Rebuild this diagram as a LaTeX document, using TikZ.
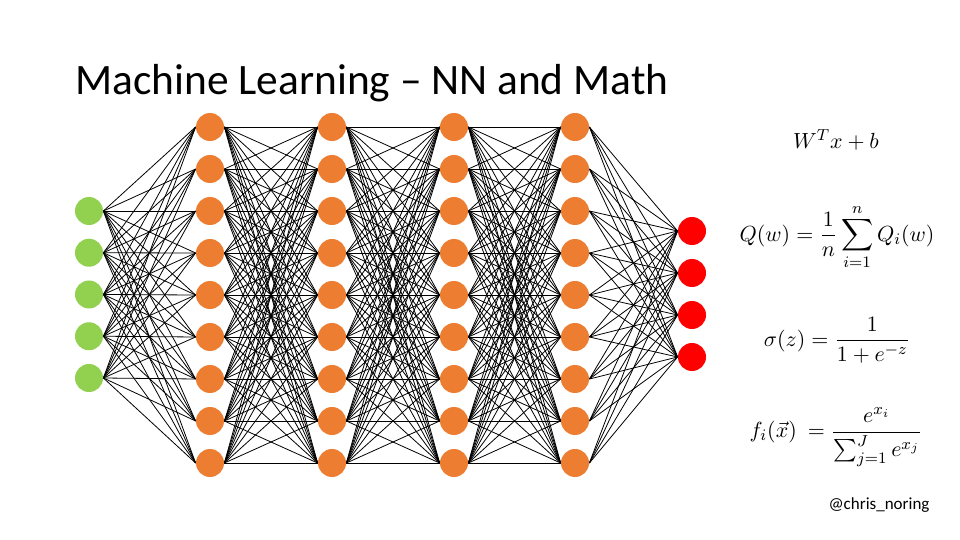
\documentclass[tikz,border=0pt]{standalone}
\usepackage{amsmath,amssymb}
\usepackage{fontspec}
\setmainfont{Carlito}
\usepackage{tikz}
\usetikzlibrary{positioning}

\definecolor{ingreen}{HTML}{92D050}
\definecolor{hidorange}{HTML}{ED7D31}
\definecolor{outred}{HTML}{FF0000}

\begin{document}
\begin{tikzpicture}[x=0.5pt, y=-0.5pt,
  neuron/.style={circle, minimum size=14pt, inner sep=0pt},
  synapse/.style={black, line width=0.4pt},
  formula/.style={font=\fontsize{11.2}{13}\selectfont, inner sep=1pt}]
\useasboundingbox (0,0) rectangle (960,540);

% Neurons
\foreach \i in {1,...,5}
  \node[neuron, fill=ingreen] (in-\i) at (89,{211+41.75*(\i-1)}) {};
\foreach \l/\x in {1/210,2/332,3/454,4/575}
  \foreach \i in {1,...,9}
    \node[neuron, fill=hidorange] (h\l-\i) at (\x,{127+42*(\i-1)}) {};
\foreach \i in {1,...,4}
  \node[neuron, fill=outred] (out-\i) at (692,{231+42*(\i-1)}) {};

% Connections
\foreach \i in {1,...,5}
  \foreach \j in {1,...,9}
    \draw[synapse] (in-\i.east) -- (h1-\j.west);
\foreach \l/\m in {1/2,2/3,3/4}
  \foreach \i in {1,...,9}
    \foreach \j in {1,...,9}
      \draw[synapse] (h\l-\i.east) -- (h\m-\j.west);
\foreach \i in {1,...,9}
  \foreach \j in {1,...,4}
    \draw[synapse] (h4-\i.east) -- (out-\j.west);

% Title
\node[anchor=base west, inner sep=0pt, font=\fontsize{21.7}{26}\selectfont] (title) at (75,95) {Machine Learning – NN and Math};

% Formulas
\node[formula] (linear) at (836,140) {$W^T x + b$};
\node[formula] (loss) at (837,237) {$\displaystyle Q(w) = \frac{1}{n}\sum_{i=1}^{n} Q_i(w)$};
\node[formula] (sigmoid) at (837,340) {$\displaystyle \sigma(z) = \frac{1}{1+e^{-z}}$};
\node[formula] (softmax) at (836,437) {$\displaystyle f_i(\vec{x})\ = \frac{e^{x_i}}{\sum_{j=1}^{J} e^{x_j}}$};

% Credit
\node[anchor=base, font=\fontsize{8.5}{10}\selectfont] (credit) at (879,509) {@chris\_noring};
\end{tikzpicture}
\end{document}
